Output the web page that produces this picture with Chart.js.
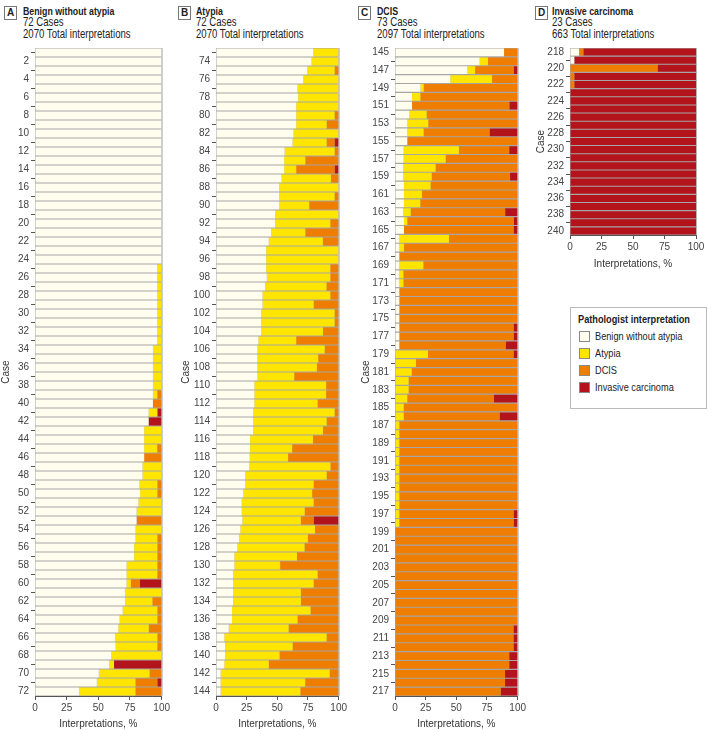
<!DOCTYPE html>
<html>
<head>
<meta charset="utf-8">
<script src="https://cdn.jsdelivr.net/npm/chart.js@4.4.1/dist/chart.umd.min.js"></script>
<style>
  body { margin: 0; background: #fff; width: 708px; height: 730px; position: relative; overflow: hidden;
         font-family: "Liberation Sans", Arial, sans-serif; color: #222; }
  canvas { position: absolute; }
  .hdr { position: absolute; font-size: 12px; line-height: 11.3px; white-space: nowrap;
         transform: scaleX(0.8); transform-origin: 0 0; }
  .hdr b { font-weight: bold; font-size: 11px; }
  .tag { position: absolute; border: 1px solid #777; width: 11px; height: 12px; font-size: 10px;
         line-height: 12px; text-align: center; font-weight: bold; }
  .legend { position: absolute; left: 570px; top: 307px; width: 135px; height: 100px; border: 1px solid #bbb;
            font-size: 11.5px; }
  .legend .ttl { position: absolute; left: 7px; top: 5px; font-weight: bold; white-space: nowrap;
                 transform: scaleX(0.8); transform-origin: 0 0; }
  .legend .it { position: absolute; left: 8px; height: 12px; line-height: 12px; white-space: nowrap; }
  .legend .sw { position: absolute; left: 0; top: 1px; width: 9px; height: 9px; border: 1px solid #888; }
  .legend .tx { position: absolute; left: 16px; top: 0; transform: scaleX(0.8); transform-origin: 0 0; }
</style>
</head>
<body>
<div class="tag" style="left:4px;top:6px">A</div>
<div class="hdr" style="left:23px;top:6px"><b>Benign without atypia</b><br>72 Cases<br>2070 Total interpretations</div>
<div class="tag" style="left:178px;top:6px">B</div>
<div class="hdr" style="left:196px;top:6px"><b>Atypia</b><br>72 Cases<br>2070 Total interpretations</div>
<div class="tag" style="left:358px;top:6px">C</div>
<div class="hdr" style="left:377px;top:6px"><b>DCIS</b><br>73 Cases<br>2097 Total interpretations</div>
<div class="tag" style="left:535px;top:6px">D</div>
<div class="hdr" style="left:552px;top:6px"><b>Invasive carcinoma</b><br>23 Cases<br>663 Total interpretations</div>

<canvas id="chartA" style="left:0px;top:40px" width="172" height="690"></canvas>
<canvas id="chartB" style="left:180px;top:40px" width="169" height="690"></canvas>
<canvas id="chartC" style="left:360px;top:40px" width="168" height="690"></canvas>
<canvas id="chartD" style="left:535px;top:40px" width="173" height="230"></canvas>

<div class="legend">
  <div class="ttl">Pathologist interpretation</div>
  <div class="it" style="top:22px"><span class="sw" style="background:#fffdee"></span><span class="tx">Benign without atypia</span></div>
  <div class="it" style="top:39px"><span class="sw" style="background:#ffe500"></span><span class="tx">Atypia</span></div>
  <div class="it" style="top:56px"><span class="sw" style="background:#ef7d00"></span><span class="tx">DCIS</span></div>
  <div class="it" style="top:73px"><span class="sw" style="background:#b3141c"></span><span class="tx">Invasive carcinoma</span></div>
</div>

<script>
// kategori
const seriesNames = ["Benign without atypia", "Atypia", "DCIS", "Invasive carcinoma"];
const seriesColors = ["#fffdee", "#ffe500", "#ef7d00", "#b3141c"];
const xTickStep = 25;

// nomor kasus pertama tiap panel
const firstCaseA = 1, firstCaseB = 73, firstCaseC = 145, firstCaseD = 218;

// Panel A - Benign without atypia (kasus 1-72)
const benignA = [100,100,100,100,100,100,100,100,100,100,100,100,100,100,100,100,100,100,100,100,100,100,100,100,
  96.5,96.5,96.5,96.5,96.5,96.5,96.5,96.5,96.5,93.1,93.1,93.1,93.1,93.1,93.1,93.1,89.7,89.7,86.2,86.2,86.2,86.2,84.9,84.9,
  82.5,83,81.7,80.2,80.2,79.4,79.4,78.3,78.3,72.3,72.3,72.3,71,71,69.2,66.8,65.8,63.2,63.7,60.3,58.5,50.4,48.8,34.7];
const atypiaA = [0,0,0,0,0,0,0,0,0,0,0,0,0,0,0,0,0,0,0,0,0,0,0,0,
  3.5,3.5,3.5,3.5,3.5,3.5,3.5,3.5,3.5,6.9,6.9,6.9,6.9,6.9,3.45,0,6.9,0,13.8,13.8,10.3,0,15.1,15.1,
  14.1,13.6,18.3,19.8,0,20.6,17.2,18.3,18.3,24.3,24.3,3.4,29,21.7,27.4,29.8,24,33.4,32.9,39.7,3.9,40,30.5,44.6];
const dcisA = [0,0,0,0,0,0,0,0,0,0,0,0,0,0,0,0,0,0,0,0,0,0,0,0,
  0,0,0,0,0,0,0,0,0,0,0,0,0,0,3.45,6.9,0,0,0,0,3.5,13.8,0,0,
  3.4,3.4,0,0,19.8,0,3.4,3.4,3.4,3.4,3.4,7.1,0,7.3,3.4,3.4,10.2,3.4,3.4,0,0,9.6,17.3,20.7];
const invasiveA = [0,0,0,0,0,0,0,0,0,0,0,0,0,0,0,0,0,0,0,0,0,0,0,0,
  0,0,0,0,0,0,0,0,0,0,0,0,0,0,0,0,3.4,10.3,0,0,0,0,0,0,
  0,0,0,0,0,0,0,0,0,0,0,17.2,0,0,0,0,0,0,0,0,37.6,0,3.4,0];

// Panel B - Atypia (kasus 73-144)
const benignB = [79.3,77.9,74.4,71.1,66.5,67,65.4,65.4,65.4,63.2,62.4,55.9,55.6,55.6,53.4,51.5,51.5,51.5,48.2,48.2,45,43,40.9,40.9,
  40.9,41.4,40,37.9,37.9,36.8,36.8,36.8,34.6,33.8,33.8,33.8,33.8,31.3,31.3,31.3,30.2,30.2,30.2,27.8,27.8,27.5,27.2,23.7,
  23.7,22.3,21,21,21.5,19.9,18.8,17.4,15,15,13.9,13.9,13.9,13.9,13.1,13.1,10.4,6.8,7.4,7.4,6.8,3.8,3.8,3.8];
const atypiaB = [20.7,22.1,22.3,28.9,33.5,33,34.6,31.3,24.8,36.8,27.8,40.8,17.2,9.8,40.3,48.5,45.2,24.5,51.8,45,27.8,44.1,59.1,59.1,
  52.3,51.8,50.1,55.3,41.7,59.9,59.9,50.4,30.8,54.8,49.5,48.5,30,58.5,58.5,51.5,66.5,60,57,51.3,34.3,31.3,66.1,66.5,
  55.9,56.1,58.6,51.3,47.7,60.8,56.1,54.8,51,37.3,68.9,65.7,55.3,55.3,64,53.4,48.8,83.4,55.1,44.4,36.2,88.9,68.9,65];
const dcisB = [0,0,3.3,0,0,0,0,3.3,9.8,0,6.5,3.3,27.2,31.3,6.3,0,3.3,24,0,6.8,27.2,12.9,0,0,
  6.8,6.8,9.9,6.8,20.4,3.3,3.3,12.8,34.6,11.4,16.7,17.7,36.2,10.2,10.2,17.2,3.3,9.8,12.8,20.9,37.9,41.2,6.7,9.8,
  20.4,21.6,20.4,27.7,10.4,19.3,25.1,27.8,34,47.7,17.2,20.4,30.8,30.8,22.9,33.5,40.8,9.8,37.5,48.2,57,7.3,27.3,31.2];
const invasiveB = [0,0,0,0,0,0,0,0,0,0,3.3,0,0,3.3,0,0,0,0,0,0,0,0,0,0,
  0,0,0,0,0,0,0,0,0,0,0,0,0,0,0,0,0,0,0,0,0,0,0,0,
  0,0,0,0,20.4,0,0,0,0,0,0,0,0,0,0,0,0,0,0,0,0,0,0,0];

// Panel C - DCIS (kasus 145-217)
const benignC = [88.9,69,59,45.1,20.7,13.9,13.9,11.7,10,10,10,7,7,6.5,6.5,7.3,7.3,7.3,6.5,7.3,7.3,3.5,3.5,3.5,
  3.5,3.5,3.5,3.5,3.5,3.5,3.5,3.5,3.5,3.5,0,0,0,0,0,0,0,0,0,0,0,0,0,0,
  0,0,0,0,0,0,0,0,0,0,0,0,0,0,0,0,0,0,0,0,0,0,0,0,0];
const atypiaC = [0,6.8,6.3,34,2.7,6.8,0,14.1,17.1,13.3,0,45.1,34.3,26.6,23.4,21.7,14.7,13.3,6.3,2.7,0,40.5,3.8,0,
  19.6,3.3,3.3,0,0,0,0,0,0,0,26.9,17.1,13.6,11.1,11.1,10,7.1,7.1,3.5,3.5,3.5,3.5,3.5,3.5,
  3.5,3.5,3.5,3.5,3.5,3.5,0,0,0,0,0,0,0,0,0,0,0,0,0,0,0,0,0,0,0];
const dcisC = [11.1,24.2,31.5,20.9,76.6,79.3,79.3,74.2,72.9,53.8,90,41,58.7,66.9,63.9,71,78,79.4,77,86.8,89.4,56,92.7,96.5,
  76.9,93.2,93.2,96.5,96.5,96.5,96.5,93.2,93.2,86.7,69.8,82.9,86.4,88.9,88.9,70.7,92.9,78.2,96.5,96.5,96.5,96.5,96.5,96.5,
  96.5,96.5,96.5,96.5,93.2,93.2,100,100,100,100,100,100,100,100,100,100,100,96.6,96.6,96.6,93.1,93.1,89.7,89.7,86.2];
const invasiveC = [0,0,3.2,0,0,0,6.8,0,0,22.9,0,6.9,0,0,6.2,0,0,0,10.2,3.2,3.3,0,0,0,
  0,0,0,0,0,0,0,3.3,3.3,9.8,3.3,0,0,0,0,19.3,0,14.7,0,0,0,0,0,0,
  0,0,0,0,3.3,3.3,0,0,0,0,0,0,0,0,0,0,0,3.4,3.4,3.4,6.9,6.9,10.3,10.3,13.8];

// Panel D - Invasive carcinoma (kasus 218-240)
const benignD = [7.2,3.4,0,0,0,0,0,0,0,0,0,0,0,0,0,0,0,0,0,0,0,0,0];
const atypiaD = [0,0,0,0,0,0,0,0,0,0,0,0,0,0,0,0,0,0,0,0,0,0,0];
const dcisD = [3.4,0,69.5,3.4,3.4,0,0,0,0,0,0,0,0,0,0,0,0,0,0,0,0,0,0];
const invasiveD = [89.4,96.6,30.5,96.6,96.6,100,100,100,100,100,100,100,100,100,100,100,100,100,100,100,100,100,100];

const tickFont = { family: '"Liberation Sans", Arial, sans-serif', size: 10 };

// latar abu-abu supaya ada garis pemisah antar baris
const rowLines = {
  id: "rowLines",
  beforeDatasetsDraw(chart) {
    const { ctx, chartArea: a } = chart;
    ctx.save();
    ctx.fillStyle = "#a6a6a6";
    ctx.fillRect(a.left, a.top, a.right - a.left, a.bottom - a.top);
    ctx.restore();
  },
  afterDatasetsDraw(chart) {
    const { ctx, chartArea: a } = chart;
    ctx.save();
    ctx.strokeStyle = "#b5b5b5";
    ctx.lineWidth = 1;
    ctx.beginPath();
    ctx.moveTo(a.right + 0.5, a.top);
    ctx.lineTo(a.right + 0.5, a.bottom);
    ctx.stroke();
    ctx.restore();
  }
};

function makeChart(id, firstCase, values, labelFrom, yWidth, xHeight, padRight) {
  const labels = [];
  for (let i = 0; i < values[0].length; i++) labels.push(String(firstCase + i));
  const ctx = document.getElementById(id).getContext("2d");
  return new Chart(ctx, {
    type: "bar",
    data: {
      labels: labels,
      datasets: seriesNames.map((name, k) => ({
        label: name,
        data: values[k],
        backgroundColor: seriesColors[k],
        borderWidth: 0,
        barPercentage: 0.87,
        categoryPercentage: 1
      }))
    },
    options: {
      indexAxis: "y",
      responsive: false,
      animation: false,
      layout: { padding: { top: 8, right: padRight, left: 0, bottom: 0 } },
      plugins: { legend: { display: false }, tooltip: { enabled: false } },
      scales: {
        x: {
          stacked: true, min: 0, max: 100,
          afterFit: (s) => { s.height = xHeight; },
          border: { display: true, color: "#555" },
          grid: { drawOnChartArea: false, tickLength: 4, color: "#555" },
          ticks: { stepSize: xTickStep, font: tickFont, color: "#444", padding: 2, maxRotation: 0, autoSkip: false },
          title: { display: true, text: "Interpretations, %", font: tickFont, color: "#333", padding: { top: 4, bottom: 0 } }
        },
        y: {
          stacked: true,
          afterFit: (s) => { s.width = yWidth; },
          border: { display: true, color: "#555" },
          grid: { drawOnChartArea: false, tickLength: 4, color: "#555" },
          ticks: {
            autoSkip: false, font: tickFont, color: "#444", padding: 2,
            callback: function (val, i) { return (i % 2 === labelFrom) ? this.getLabelForValue(val) : null; }
          },
          title: { display: true, text: "Case", font: tickFont, color: "#333", padding: 0 }
        }
      }
    },
    plugins: [rowLines]
  });
}

makeChart("chartA", firstCaseA, [benignA, atypiaA, dcisA, invasiveA], 1, 35, 34, 10);
makeChart("chartB", firstCaseB, [benignB, atypiaB, dcisB, invasiveB], 1, 36, 34, 10);
makeChart("chartC", firstCaseC, [benignC, atypiaC, dcisC, invasiveC], 0, 35, 34, 10);
makeChart("chartD", firstCaseD, [benignD, atypiaD, dcisD, invasiveD], 0, 35, 35, 12);
</script>
</body>
</html>
